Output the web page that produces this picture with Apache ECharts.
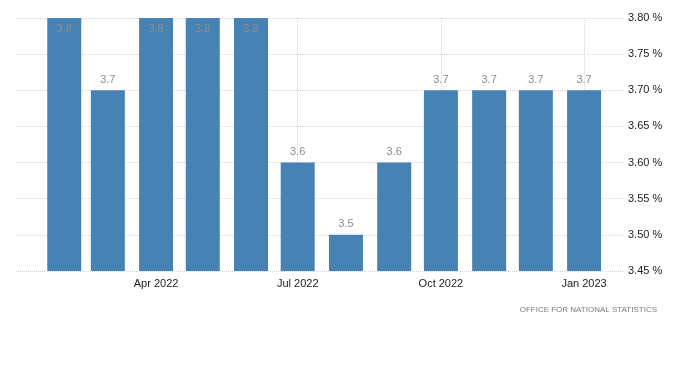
<!DOCTYPE html>
<html>
<head>
<meta charset="utf-8">
<script src="https://cdn.jsdelivr.net/npm/echarts@6/dist/echarts.min.js"></script>
<style>html,body{margin:0;padding:0;background:#fff;}#c{width:700px;height:371px;}</style>
</head>
<body>
<div id="c"></div>
<script>
const months = ['Feb 2022','Mar 2022','Apr 2022','May 2022','Jun 2022','Jul 2022','Aug 2022','Sep 2022','Oct 2022','Nov 2022','Dec 2022','Jan 2023'];
const values = [3.8, 3.7, 3.8, 3.8, 3.8, 3.6, 3.5, 3.6, 3.7, 3.7, 3.7, 3.7];
const tickLabels = ['Apr 2022','Jul 2022','Oct 2022','Jan 2023'];
const yTicks = [3.45, 3.50, 3.55, 3.60, 3.65, 3.70, 3.75, 3.80];
const xRange = ['2022-01-01', '2023-01-26'];
const sourceText = 'OFFICE FOR NATIONAL STATISTICS';

const MON = ['Jan','Feb','Mar','Apr','May','Jun','Jul','Aug','Sep','Oct','Nov','Dec'];
const DAY = 86400000;
// x positions are day numbers (days since 1970-01-01, UTC)
function toDay(label) {
  const p = label.split(' ');
  return Date.UTC(+p[1], MON.indexOf(p[0]), 1) / DAY;
}
function isoDay(s) { const p = s.split('-'); return Date.UTC(+p[0], +p[1] - 1, +p[2]) / DAY; }

const FONT = 'Liberation Sans';
const chart = echarts.init(document.getElementById('c'), null, {renderer: 'canvas'});
const yMax = yTicks[yTicks.length - 1];

chart.setOption({
  animation: false,
  backgroundColor: '#ffffff',
  textStyle: {fontFamily: FONT},
  grid: {left: 16, right: 77, top: 18, bottom: 100, containLabel: false},
  xAxis: {
    type: 'value',
    min: isoDay(xRange[0]),
    max: isoDay(xRange[1]),
    scale: true,
    axisLine: {show: false},
    axisTick: {show: false},
    splitLine: {show: false},
    axisLabel: {show: false}
  },
  yAxis: {
    type: 'value',
    position: 'right',
    min: yTicks[0],
    max: yMax,
    interval: 0.05,
    axisLine: {show: false},
    axisTick: {show: false},
    splitLine: {show: true, lineStyle: {color: '#d4d4d4', type: 'dotted', width: 1}},
    axisLabel: {
      color: '#222', fontSize: 11, fontFamily: FONT, margin: 5,
      formatter: function (v) { return v.toFixed(2) + ' %'; }
    }
  },
  series: [{
    type: 'bar',
    barWidth: 34,
    itemStyle: {color: '#4682b4'},
    clip: true,
    data: values.map(function (v, i) {
      const atTop = v >= yMax - 1e-9;
      return {
        value: [toDay(months[i]), v],
        label: {
          show: true,
          position: atTop ? 'insideTop' : 'top',
          distance: 5,
          color: '#8c8c8c',
          fontSize: 11,
          fontFamily: FONT,
          formatter: function () { return v.toFixed(1); }
        }
      };
    }),
    markLine: {
      silent: true,
      symbol: ['none', 'none'],
      z: 0,
      lineStyle: {color: '#d4d4d4', type: 'dotted', width: 1},
      label: {
        show: true, position: 'start', distance: 7,
        color: '#222', fontSize: 11, fontFamily: FONT,
        formatter: '{b}'
      },
      data: tickLabels.map(function (t) { return {name: t, xAxis: toDay(t)}; })
    }
  }],
  graphic: [{
    type: 'text',
    right: 43,
    top: 306,
    style: {text: sourceText, fill: '#7a7a7a', font: '8px "Liberation Sans"', letterSpacing: 0.8}
  }]
});
</script>
</body>
</html>
